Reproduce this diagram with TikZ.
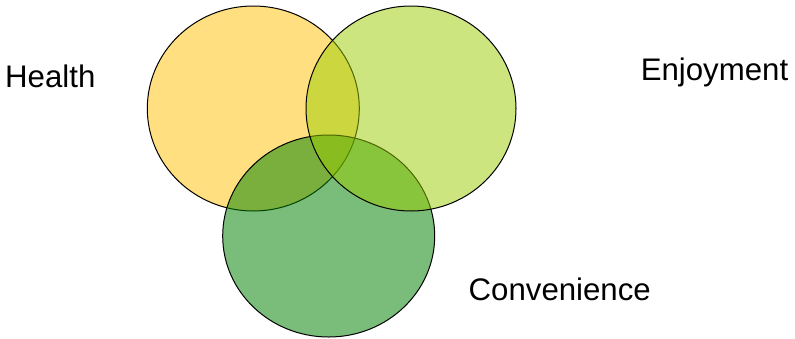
\documentclass[tikz,border=0pt]{standalone}
\usepackage{fontspec}
\setmainfont{Liberation Sans}
\definecolor{cyellow}{HTML}{FFC000}
\definecolor{cyg}{HTML}{99CC00}
\definecolor{cgreen}{HTML}{008000}
\tikzset{
  venn/.style={draw=black, line width=1pt, fill opacity=0.5},
  lbl/.style={inner sep=0pt, anchor=base west, font=\fontsize{31.2}{36}\selectfont}
}
\begin{document}
\begin{tikzpicture}[x=1pt,y=-1pt]
\useasboundingbox (0,0) rectangle (795,338);
\path[venn, fill=cyellow] (253.3,108.5) ellipse [x radius=106, y radius=102.5];
\path[venn, fill=cgreen, fill opacity=0.52] (328.7,236) ellipse [x radius=106, y radius=101];
\path[venn, fill=cyg] (411,108.5) ellipse [x radius=105, y radius=102.5];
\node[lbl] (health) at (5,87) {Health};
\node[lbl] (enjoy) at (640.6,80) {Enjoyment};
\node[lbl] (conv) at (468.5,300) {Convenience};
\end{tikzpicture}
\end{document}
